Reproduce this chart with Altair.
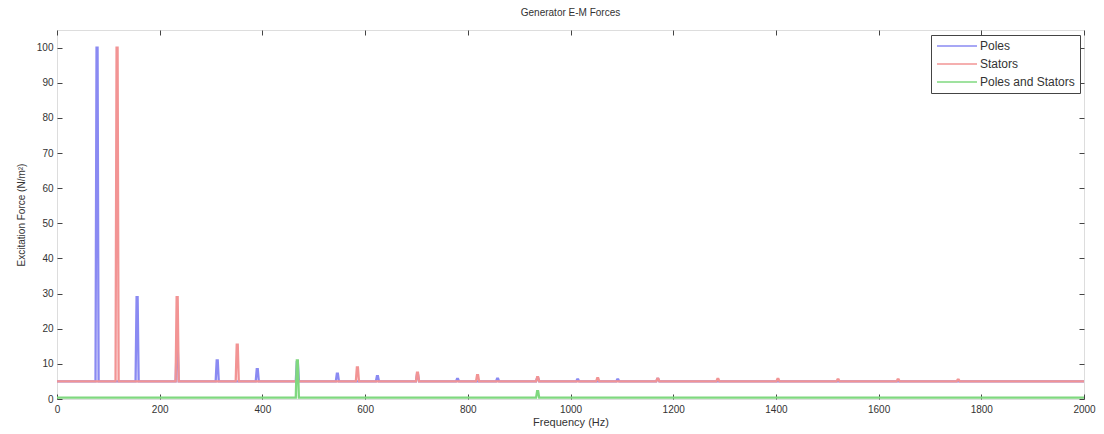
import altair as alt
import pandas as pd

# ---- data ----
series_names = ["Poles", "Stators", "Poles and Stators"]
series_colors = ["#8a8af2", "#f29494", "#7fd87f"]

poles_base = 5.0
poles_f = [78, 156, 234, 312, 390, 468, 546, 624, 702, 780, 858, 936, 1014, 1092, 1170]
poles_v = [100, 29, 15.5, 11, 8.5, 10.5, 7.2, 6.5, 7, 5.7, 5.8, 6, 5.6, 5.6, 5.7]

stators_base = 5.0
stators_f = [117, 234, 351, 585, 702, 819, 936, 1053, 1170, 1287, 1404, 1521, 1638, 1755]
stators_v = [100, 29, 15.5, 9, 7.5, 6.8, 6.2, 5.9, 5.8, 5.7, 5.7, 5.6, 5.6, 5.5]

both_base = 0.4
both_f = [468, 936]
both_v = [11, 2.2]

x_ticks = [0, 200, 400, 600, 800, 1000, 1200, 1400, 1600, 1800, 2000]
y_ticks = [0, 10, 20, 30, 40, 50, 60, 70, 80, 90, 100]

F_MIN, F_MAX = 0, 2000
HALF = 3  # spectral line half-width in Hz (resolution of the spectrum)

rows = []
for name, base, fs, vs in [
    ("Poles", poles_base, poles_f, poles_v),
    ("Stators", stators_base, stators_f, stators_v),
    ("Poles and Stators", both_base, both_f, both_v),
]:
    pts = [(F_MIN, base)]
    for f, v in zip(fs, vs):
        pts += [(f - HALF, base), (f - HALF / 3, v), (f + HALF / 3, v), (f + HALF, base)]
    pts.append((F_MAX, base))
    for i, (f, v) in enumerate(pts):
        rows.append({"series": name, "f": f, "v": v, "i": i})
df = pd.DataFrame(rows)

FONT = "Liberation Sans"
TXT = "#333333"

x_scale = alt.Scale(domain=[0, 2000], nice=False, zero=False)
y_scale = alt.Scale(domain=[0, 105], nice=False)
color_scale = alt.Scale(domain=series_names, range=series_colors)

x_main = alt.X("f:Q", scale=x_scale, title="Frequency (Hz)",
               axis=alt.Axis(values=x_ticks, format="d", offset=-5, tickSize=5,
                             domain=False, grid=False, labelPadding=5, labelFlush=False,
                             tickColor="#444", labelColor=TXT, labelFontSize=10,
                             labelFont=FONT, titleFont=FONT, titleFontSize=11,
                             titleFontWeight="normal", titleColor=TXT, titlePadding=2))
y_main = alt.Y("v:Q", scale=y_scale, title="Excitation Force (N/m²)",
               axis=alt.Axis(values=y_ticks, offset=-5, tickSize=5, domain=False,
                             grid=False, labelPadding=4, labelFlush=False, tickColor="#444",
                             labelColor=TXT, labelFontSize=10, labelFont=FONT,
                             titleFont=FONT, titleFontSize=10, titleFontWeight="normal",
                             titleColor=TXT, titlePadding=10))

legend = alt.Legend(title=None, orient="none", legendX=874, legendY=5,
                    strokeColor="#444", fillColor="white", padding=5,
                    symbolType="M-4,0H4", symbolSize=100, symbolStrokeWidth=1.5,
                    symbolOffset=15, labelOffset=17,
                    labelFont=FONT, labelFontSize=12, labelColor=TXT,
                    rowPadding=6, cornerRadius=0)

layers = []
for k, name in enumerate(series_names):
    ch = alt.Chart(df).transform_filter(alt.datum.series == name).mark_line(
        strokeWidth=2.3, interpolate="linear"
    ).encode(
        x=x_main if k == 0 else alt.X("f:Q", scale=x_scale, axis=None),
        y=y_main if k == 0 else alt.Y("v:Q", scale=y_scale, axis=None),
        order="i:Q",
        color=alt.Color("series:N", scale=color_scale, legend=legend),
    )
    layers.append(ch)

# mirrored inward ticks on top and right edges (MATLAB box style)
frame = alt.Chart(df).mark_line(opacity=0).encode(
    x=alt.X("f:Q", scale=x_scale, title=None,
            axis=alt.Axis(orient="top", values=x_ticks, labels=False, offset=-5,
                          tickSize=5, domain=False, grid=False, tickColor="#444")),
    y=alt.Y("v:Q", scale=y_scale, title=None,
            axis=alt.Axis(orient="right", values=y_ticks, labels=False, offset=-5,
                          tickSize=5, domain=False, grid=False, tickColor="#444")),
    detail="series:N",
)
layers.append(frame)

chart = alt.layer(*layers).resolve_axis(x="independent", y="independent").properties(
    width=1027, height=369,
    title=alt.TitleParams("Generator E-M Forces", font=FONT, fontSize=10,
                          fontWeight="normal", color=TXT, offset=12),
    autosize=alt.AutoSizeParams(type="none"),
    padding={"left": 49, "top": 22, "right": 12, "bottom": 32},
).configure_view(stroke="#444", strokeWidth=1).configure(background="white")

chart.save("out.html", embed_options={"renderer": "svg", "actions": False})
